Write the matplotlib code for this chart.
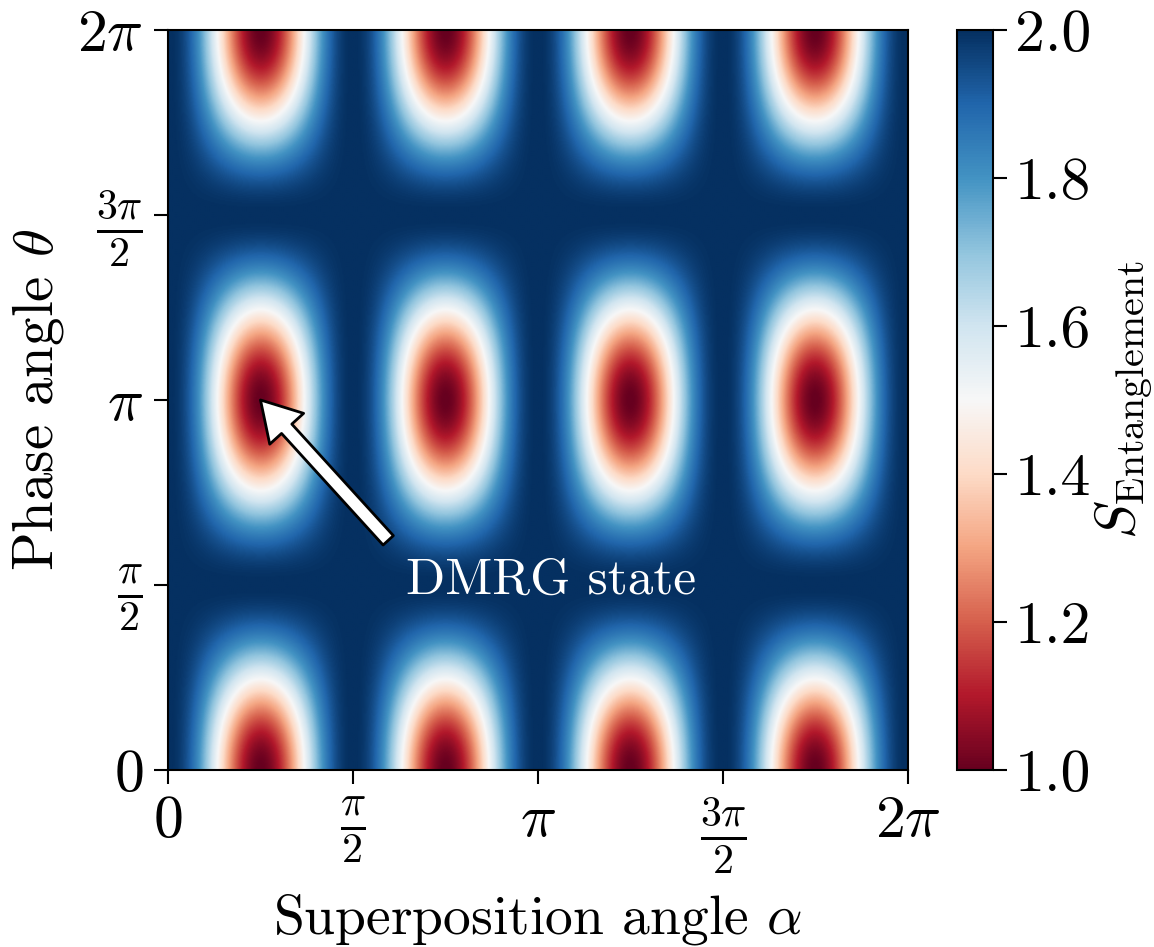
import numpy as np
import matplotlib.pyplot as plt

plt.rcParams['font.family'] = 'serif'
plt.rcParams['font.serif'] = ['cmr10', 'DejaVu Serif']
plt.rcParams['mathtext.fontset'] = 'cm'
plt.rcParams['axes.unicode_minus'] = False

# grid of angles
alpha = np.linspace(0, 2 * np.pi, 700)
theta = np.linspace(0, 2 * np.pi, 700)

# entanglement range (colour scale)
S_min = 1.0
S_max = 2.0
alpha_power = 2.3   # sharpness of the blobs along alpha
theta_power = 2.1   # sharpness of the blobs along theta

tick_pos = [0, np.pi / 2, np.pi, 3 * np.pi / 2, 2 * np.pi]
tick_labels = [r'$0$', r'$\frac{\pi}{2}$', r'$\pi$', r'$\frac{3\pi}{2}$', r'$2\pi$']
cbar_ticks = [1.0, 1.2, 1.4, 1.6, 1.8, 2.0]
cbar_labels = ['1.0', '1.2', '1.4', '1.6', '1.8', '2.0']

dmrg_point = (np.pi / 4, np.pi)
arrow_tail = (1.87, 1.95)
dmrg_text = (2.02, 1.80)

A, T = np.meshgrid(alpha, theta)
S = S_max - (S_max - S_min) * np.abs(np.sin(2 * A)) ** alpha_power * np.abs(np.cos(T)) ** theta_power

W, H = 1154, 947
fig = plt.figure(figsize=(W / 100, H / 100), dpi=100)
ax = fig.add_axes([168 / W, 1 - 770 / H, 740 / W, 740 / H])
im = ax.imshow(S, extent=[0, 2 * np.pi, 0, 2 * np.pi], origin='lower', aspect='auto',
               cmap='RdBu', vmin=S_min, vmax=S_max, interpolation='bilinear')

ax.set_xticks(tick_pos)
ax.set_xticklabels(tick_labels)
ax.set_yticks(tick_pos)
ax.set_yticklabels(tick_labels)
ax.tick_params(labelsize=43, length=10, width=1.5, pad=8)
for s in ax.spines.values():
    s.set_linewidth(1.5)

ax.set_xlabel(r'Superposition angle $\alpha$', fontsize=40, labelpad=12)
ax.set_ylabel(r'Phase angle $\theta$', fontsize=41, labelpad=8)

ax.annotate('', xy=dmrg_point, xytext=arrow_tail,
            arrowprops=dict(facecolor='white', edgecolor='black', width=10,
                            headwidth=33, headlength=28, linewidth=2))
ax.text(dmrg_text[0], dmrg_text[1], 'DMRG state', color='white',
        fontsize=37, ha='left', va='top')

cax = fig.add_axes([957 / W, 1 - 770 / H, 36 / W, 740 / H])
cb = fig.colorbar(im, cax=cax, ticks=cbar_ticks)
cb.set_ticklabels(cbar_labels)
cb.ax.tick_params(labelsize=43, length=10, width=1.5, pad=6)
cb.outline.set_linewidth(1.5)
cb.set_label(r'$S_{\mathrm{Entanglement}}$', fontsize=41, labelpad=1)

fig.savefig('out.png', dpi=100)
